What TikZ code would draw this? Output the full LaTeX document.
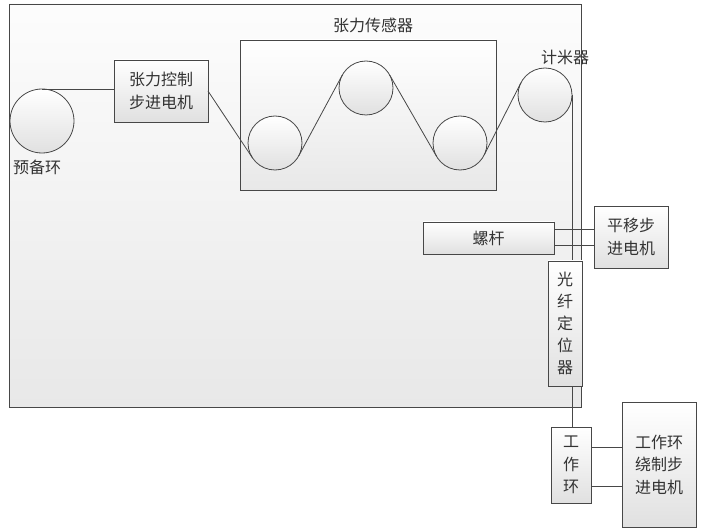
\documentclass[tikz,border=0pt]{standalone}
\usepackage{fontspec}
\newfontfamily\cjk{Noto Sans CJK SC}
\usetikzlibrary{calc,shadows}
\begin{document}
\begin{tikzpicture}[x=1pt,y=-1pt,
  every node/.style={font=\cjk\fontsize{16}{22.5}\selectfont, text=black!80},
  ln/.style={draw=black!72, line width=0.8pt},
  box/.style={rectangle, draw=black!72, line width=0.8pt, top color=white, bottom color=black!12,
    inner sep=0pt, outer sep=0pt, align=center,
    drop shadow={shadow xshift=1.2pt, shadow yshift=-1.2pt, opacity=0.3, fill=black!60}},
  roller/.style={circle, draw=black!72, line width=0.8pt, top color=white, bottom color=black!12,
    inner sep=0pt, outer sep=0pt},
  lbl/.style={inner sep=0pt}]
\useasboundingbox (0,0) rectangle (705,532);

% outer frame and sensor box
\node[box, minimum width=572pt, minimum height=403pt, top color=black!1, bottom color=black!9] (frame) at (295,205.5) {};
\node[box, minimum width=256pt, minimum height=150pt, top color=white, bottom color=black!9] (sensor) at (368,115) {};
\node[lbl] (sensorlbl) at (373,25) {张力传感器};

% control motor
\node[box, minimum width=94pt, minimum height=62pt] (ctrl) at (161,91) {张力控制\\步进电机};

% rollers
\node[roller, minimum size=64pt] (c0) at (42,121) {};
\node[lbl] (c0lbl) at (37,167) {预备环};
\node[roller, minimum size=54pt] (c1) at (275,143) {};
\node[roller, minimum size=54pt] (c2) at (366,88) {};
\node[roller, minimum size=54pt] (c3) at (460,143) {};
\node[roller, minimum size=54pt] (c4) at (545,95) {};
\node[lbl] (c4lbl) at (565,57) {计米器};

% belt
\draw[ln] (c0.north) -- (c0.north -| ctrl.west);
\draw[ln] (ctrl.east) -- (c1.213.6);
\draw[ln] (c1.-28.35) -- (c2.151.65);
\draw[ln] (c2.29.94) -- (c3.210);
\draw[ln] (c3.-26.95) -- (c4.153.05);

% working ring and its motor
\node[box, minimum width=40pt, minimum height=76pt] (gzh) at (571,465) {工\\作\\环};
\node[box, minimum width=74pt, minimum height=125pt] (gzm) at (659,464.5) {工作环\\绕制步\\进电机};

\draw[ln] (c4.east) -- (c4.east |- gzh.north);

% screw and translation motor
\node[box, minimum width=131pt, minimum height=32pt] (screw) at (488.5,238) {螺杆};
\node[box, minimum width=74pt, minimum height=62pt] (py) at (631,237) {平移步\\进电机};
\node[box, minimum width=34pt, minimum height=125pt, font=\cjk\fontsize{16}{22}\selectfont] (gx) at (565,323.5) {光\\纤\\定\\位\\器};

\coordinate (s1) at ([yshift=8.5pt]screw.east);
\coordinate (s2) at ([yshift=-7.5pt]screw.east);
\draw[ln] (s1) -- (s1 -| py.west);
\draw[ln] (s2) -- (s2 -| py.west);

\coordinate (g1) at ([yshift=18pt]gzh.east);
\coordinate (g2) at ([yshift=-21pt]gzh.east);
\draw[ln] (g1) -- (g1 -| gzm.west);
\draw[ln] (g2) -- (g2 -| gzm.west);
\end{tikzpicture}
\end{document}
